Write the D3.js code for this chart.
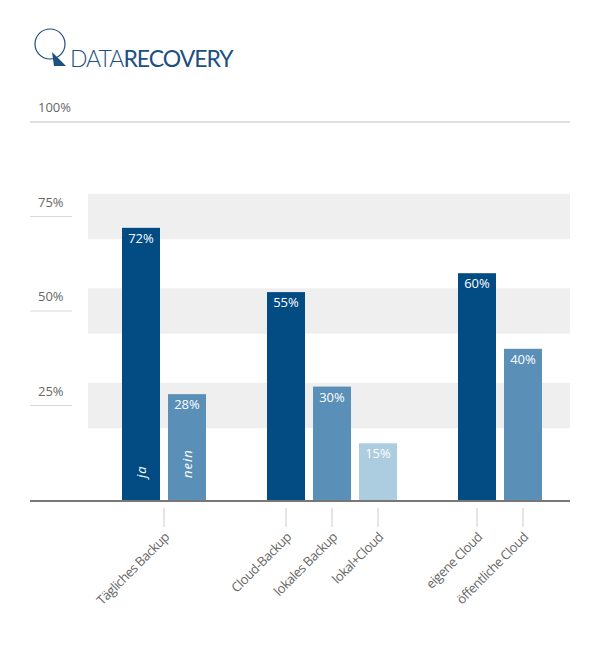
<!DOCTYPE html>
<html>
<head>
<meta charset="utf-8">
<script src="https://cdn.jsdelivr.net/npm/d3@7"></script>
<style>
  body { margin: 0; background: #fff; }
  svg text { font-family: "Open Sans", "DejaVu Sans", sans-serif; }
</style>
</head>
<body>
<svg id="chart" width="600" height="650"></svg>
<script>
// chart data
const groups = [["ja", "nein"], ["Cloud-Backup", "lokales Backup", "lokal+Cloud"], ["eigene Cloud", "öffentliche Cloud"]];
const values = [[72, 28], [55, 30, 15], [60, 40]];
const colors = [["#034b83", "#5a8fb8"], ["#034b83", "#5a8fb8", "#acccdf"], ["#034b83", "#5a8fb8"]];
const axisLabels = [["Tägliches Backup"], ["Cloud-Backup", "lokales Backup", "lokal+Cloud"], ["eigene Cloud", "öffentliche Cloud"]];
const inBarLabels = ["ja", "nein"];
const yTicks = [25, 50, 75, 100];

const svg = d3.select("#chart");
const left = 30, right = 570, base = 500;
const y = d3.scaleLinear().domain([0, 100]).range([base, 122]);

// logo
const logo = svg.append("g");
logo.append("circle").attr("cx", 50).attr("cy", 44).attr("r", 15)
  .attr("fill", "none").attr("stroke", "#1d4f80").attr("stroke-width", 1.2);
logo.append("path").attr("d", "M52,52 L66,66 L54,66 Z").attr("fill", "#1d4f80");
const lt = logo.append("text").attr("x", 70).attr("y", 67)
  .attr("font-size", 23).attr("fill", "#1d4f80").attr("letter-spacing", -1)
  .style("font-family", "Lato, sans-serif");
lt.append("tspan").attr("font-weight", 300).text("DATA");
lt.append("tspan").attr("font-weight", 400).text("RECOVERY");

// grey bands around ticks below 100
yTicks.filter(t => t < 100).forEach(t => {
  svg.append("rect").attr("x", 88).attr("width", right - 88)
    .attr("y", y(t + 6)).attr("height", y(t - 6) - y(t + 6)).attr("fill", "#efefef");
  svg.append("line").attr("x1", left).attr("x2", 72).attr("y1", y(t)).attr("y2", y(t))
    .attr("stroke", "#d8d8d8");
});
svg.append("line").attr("x1", left).attr("x2", right).attr("y1", y(100)).attr("y2", y(100))
  .attr("stroke", "#e0e0e0").attr("stroke-width", 2);
yTicks.forEach(t => {
  svg.append("text").attr("x", 38).attr("y", y(t) - 10)
    .attr("font-size", 13).attr("fill", "#666").text(t + "%");
});

// bar positions: fixed bar width, small gap inside groups, larger between groups
const barW = 38, innerGap = 8, groupGap = 61;
const bars = [];
let x0 = 122;
groups.forEach((g, gi) => {
  g.forEach((name, i) => {
    bars.push({ name, v: values[gi][i], c: colors[gi][i], x: x0, gi, i });
    x0 += barW + innerGap;
  });
  x0 += groupGap - innerGap;
});

svg.selectAll(".bar").data(bars).enter().append("rect")
  .attr("x", d => d.x).attr("width", barW)
  .attr("y", d => y(d.v)).attr("height", d => base - y(d.v))
  .attr("fill", d => d.c);

svg.selectAll(".val").data(bars).enter().append("text")
  .attr("x", d => d.x + barW / 2).attr("y", d => y(d.v) + 15)
  .attr("text-anchor", "middle").attr("font-size", 13).attr("fill", "#fff")
  .text(d => d.v + "%");

// ja / nein inside first group
bars.filter(d => d.gi === 0).forEach((d, i) => {
  svg.append("text")
    .attr("transform", `translate(${d.x + barW / 2 + 5},${base - 22}) rotate(-90)`)
    .attr("font-size", 13).attr("font-style", "italic").attr("fill", "#fff")
    .attr("letter-spacing", 1).text(inBarLabels[i]);
});

// baseline
svg.append("line").attr("x1", left).attr("x2", right).attr("y1", base + 1).attr("y2", base + 1)
  .attr("stroke", "#777").attr("stroke-width", 2);

// category ticks + rotated labels
const ticks = [];
axisLabels.forEach((labels, gi) => {
  const gb = bars.filter(d => d.gi === gi);
  if (labels.length === 1) {
    ticks.push({ label: labels[0], x: (gb[0].x + gb[gb.length - 1].x + barW) / 2 });
  } else {
    labels.forEach((l, i) => ticks.push({ label: l, x: gb[i].x + barW / 2 }));
  }
});
ticks.forEach(t => {
  svg.append("line").attr("x1", t.x).attr("x2", t.x).attr("y1", 508).attr("y2", 527)
    .attr("stroke", "#ccc");
  svg.append("text").attr("transform", `translate(${t.x + 6},${538}) rotate(-45)`)
    .attr("text-anchor", "end").attr("font-size", 13).attr("fill", "#666")
    .attr("letter-spacing", -0.5).text(t.label);
});
</script>
</body>
</html>
